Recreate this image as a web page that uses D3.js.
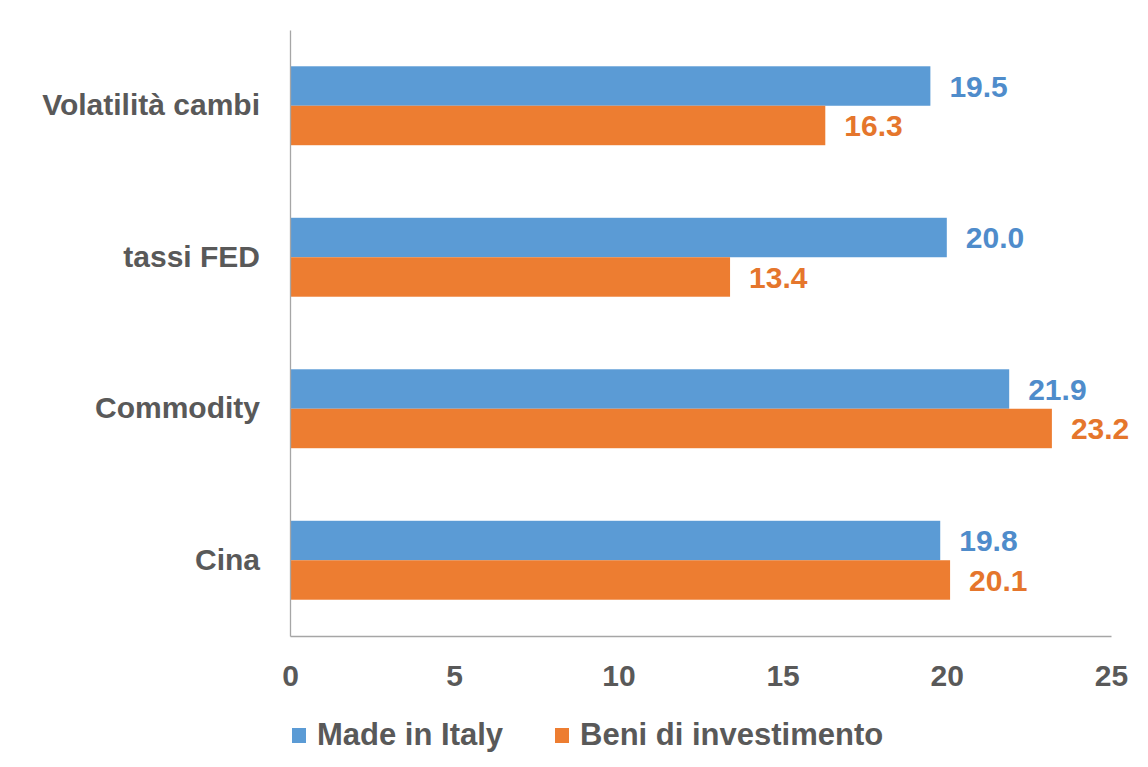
<!DOCTYPE html>
<html>
<head>
<meta charset="utf-8">
<script src="https://cdn.jsdelivr.net/npm/d3@7"></script>
<style>
  html, body { margin: 0; padding: 0; background: #fff; }
  svg { display: block; }
</style>
</head>
<body>
<svg id="chart" width="1148" height="767"></svg>
<script>
// Categories (top to bottom) and the two series
const categories = ["Volatilità cambi", "tassi FED", "Commodity", "Cina"];
const madeInItaly = [19.5, 20.0, 21.9, 19.8];
const beniInvestimento = [16.3, 13.4, 23.2, 20.1];
const seriesNames = ["Made in Italy", "Beni di investimento"];
const xTicks = [0, 5, 10, 15, 20, 25];

const colors = ["#5B9BD5", "#ED7D31"];
const labelColors = ["#4F8CCB", "#E5762C"];
const textGray = "#595959";
const sans = "'Liberation Sans', Arial, sans-serif";

const svg = d3.select("#chart");
const margin = { left: 290, top: 30 };
const plotW = 821, plotH = 606;

const x = d3.scaleLinear().domain([0, 25]).range([0, plotW]);
const y = d3.scaleBand().domain(categories).range([0, plotH])
  .paddingInner(0.479).paddingOuter(0.2395);
const sub = d3.scaleBand().domain([0, 1]).range([0, y.bandwidth()]);

const g = svg.append("g").attr("transform", `translate(${margin.left},${margin.top})`);

const rows = categories.map((c, i) => ({ cat: c, vals: [madeInItaly[i], beniInvestimento[i]] }));

// Bars
const groups = g.selectAll("g.cat").data(rows).join("g")
  .attr("class", "cat")
  .attr("transform", d => `translate(0,${y(d.cat)})`);

groups.selectAll("rect").data(d => d.vals.map((v, s) => ({ v, s }))).join("rect")
  .attr("x", 0)
  .attr("y", d => sub(d.s))
  .attr("width", d => x(d.v))
  .attr("height", sub.bandwidth())
  .attr("fill", d => colors[d.s]);

// Value labels
groups.selectAll("text.val").data(d => d.vals.map((v, s) => ({ v, s }))).join("text")
  .attr("class", "val")
  .attr("x", d => x(d.v) + 19)
  .attr("y", d => sub(d.s) + sub.bandwidth() / 2)
  .attr("dy", "0.36em")
  .attr("font-family", sans)
  .attr("font-weight", "bold")
  .attr("font-size", 30)
  .attr("fill", d => labelColors[d.s])
  .text(d => d.v.toFixed(1));

// Category axis
const yAxis = g.append("g").call(d3.axisLeft(y).tickSize(0).tickPadding(30));
yAxis.select(".domain").attr("stroke", "#A6A6A6").attr("stroke-width", 1.3);
yAxis.selectAll("text")
  .attr("font-family", sans).attr("font-weight", "bold")
  .attr("font-size", 30).attr("fill", textGray);

// Value axis
const xAxis = g.append("g").attr("transform", `translate(0,${plotH})`)
  .call(d3.axisBottom(x).tickValues(xTicks).tickSize(0).tickPadding(29).tickFormat(d3.format("d")));
xAxis.select(".domain").attr("stroke", "#A6A6A6").attr("stroke-width", 1.3);
xAxis.selectAll("text")
  .attr("font-family", sans).attr("font-weight", "bold")
  .attr("font-size", 30).attr("fill", textGray);

// Legend
const legend = svg.append("g").attr("transform", "translate(292,745)");
const legendX = [0, 263];
seriesNames.forEach((name, i) => {
  const item = legend.append("g").attr("transform", `translate(${legendX[i]},0)`);
  item.append("rect").attr("x", 0).attr("y", -17).attr("width", 14).attr("height", 15)
    .attr("fill", colors[i]);
  item.append("text").attr("x", 25).attr("y", 0)
    .attr("font-family", sans).attr("font-weight", "bold")
    .attr("font-size", 31).attr("fill", textGray)
    .text(name);
});
</script>
</body>
</html>
